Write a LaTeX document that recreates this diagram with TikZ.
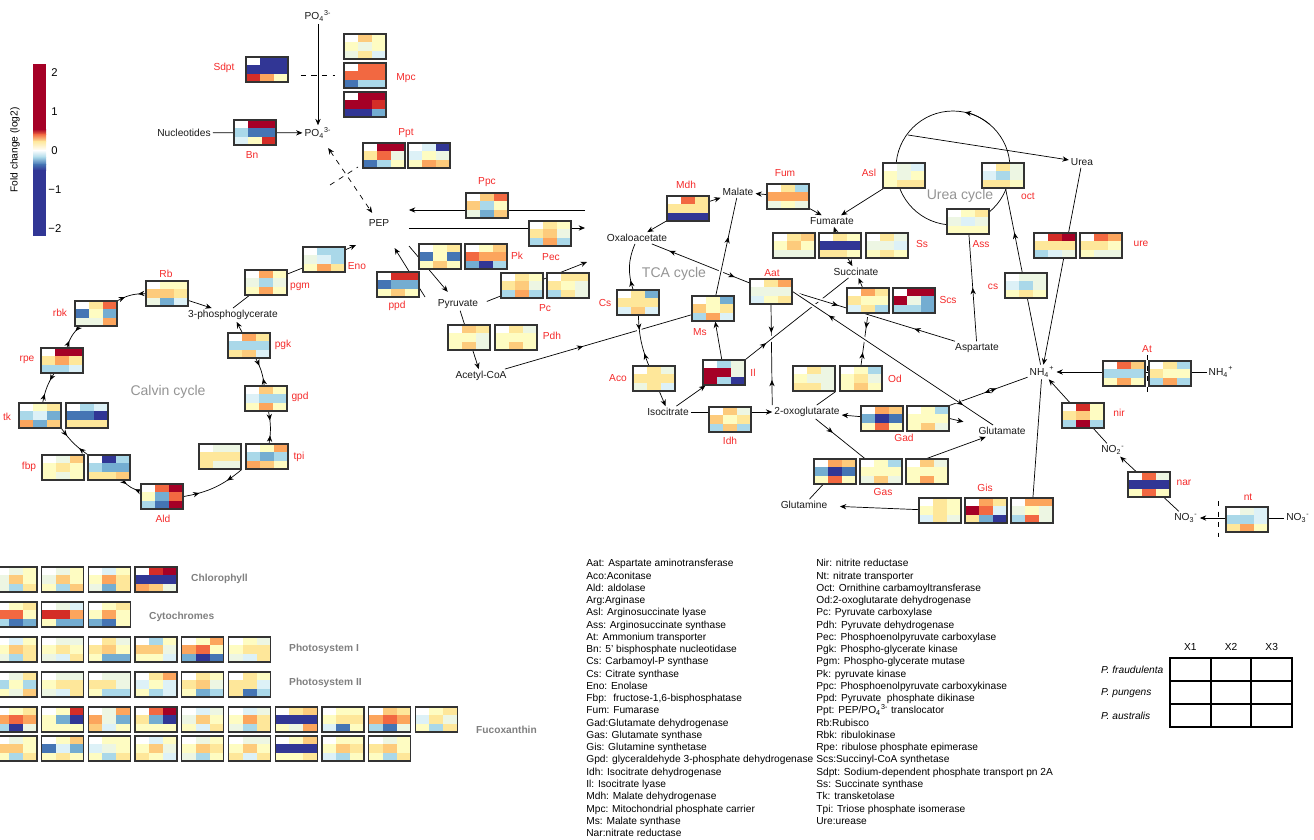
\documentclass[tikz,border=0pt]{standalone}
\usepackage{fontspec}
\setmainfont{Liberation Sans}
\usetikzlibrary{arrows.meta,backgrounds,decorations.markings,positioning}

% expression colours (log2 fold change)
\definecolor{w0}{HTML}{FFFFFF}
\definecolor{y1}{HTML}{FEFCC2}
\definecolor{y2}{HTML}{FEE79A}
\definecolor{y3}{HTML}{FDCB7C}
\definecolor{o1}{HTML}{FCA55D}
\definecolor{o2}{HTML}{F26841}
\definecolor{r1}{HTML}{D42D27}
\definecolor{r2}{HTML}{A50026}
\definecolor{g0}{HTML}{EDF6E3}
\definecolor{b0}{HTML}{DDF1F7}
\definecolor{b1}{HTML}{AAD8E9}
\definecolor{b2}{HTML}{74ADD1}
\definecolor{b3}{HTML}{4575B4}
\definecolor{b4}{HTML}{313695}
\definecolor{enzred}{HTML}{F42A2A}

% 3x3 expression map, #1 name, #2 top left corner, #3 nine colours row by row
\newcommand{\hmap}[3]{%
  \begin{scope}[shift={#2}]
    \foreach \hc [count=\hk from 0] in {#3}{%
      \pgfmathtruncatemacro{\hx}{mod(\hk,3)}%
      \pgfmathtruncatemacro{\hy}{\hk/3}%
      \fill[\hc] (\hx*14,\hy*25/3) rectangle +(14,25/3);
    }
    \node[hmbox] (#1) at (21,12.5) {};
  \end{scope}}

\tikzset{
  hmbox/.style={draw=black!80, line width=0.7pt, minimum width=0.84cm, minimum height=0.5cm, inner sep=0pt},
  met/.style={inner sep=1pt, text=black!90},
  enz/.style={inner sep=0.5pt, text=enzred},
  cyc/.style={text=black!42, font=\fontsize{8}{9}\selectfont},
  grp/.style={anchor=west, text=black!50, font=\fontsize{5.8}{7}\selectfont\bfseries},
  fwd/.style={postaction={decorate,decoration={markings,mark=at position #1 with {\arrow{Stealth[length=3.6pt,width=3pt]}}}}},
  bwd/.style={postaction={decorate,decoration={markings,mark=at position #1 with {\arrowreversed{Stealth[length=3.6pt,width=3pt]}}}}},
  twoway/.style={fwd=0.28, bwd=0.75},
  bothway/.style={bwd=0.18, fwd=0.85},
  bridge/.style={preaction={draw=white, line width=2.6pt}},
}

\begin{document}
\begin{tikzpicture}[x=0.02cm, y=-0.02cm, font=\fontsize{5.8}{7}\selectfont,
  >={Stealth[length=3.6pt,width=3pt]}, line width=0.5pt]
\useasboundingbox (0,0) rectangle (1314,839);

% colour key
\fill[r2] (33,64) rectangle (46,129.5);
\shade[top color=r2, bottom color=o2] (33,129) rectangle (46,134.5);
\shade[top color=o2, bottom color=y2] (33,134) rectangle (46,141.5);
\shade[top color=y2, bottom color=w0] (33,141) rectangle (46,150.5);
\shade[top color=w0, bottom color=b1] (33,150) rectangle (46,157.5);
\shade[top color=b1, bottom color=b3] (33,157) rectangle (46,164.5);
\shade[top color=b3, bottom color=b4] (33,164) rectangle (46,170.5);
\fill[b4] (33,170) rectangle (46,236);
\foreach \v/\yy/\xx in {2/73/51, 1/112/51, 0/151/51, −1/190/48, −2/229/48}
  \node[anchor=west, inner sep=0pt, font=\fontsize{6.4}{7}\selectfont] (cb\yy) at (\xx,\yy) {\v};
\node[rotate=90] (cbtitle) at (15,150) {Fold change (log2)};

% expression maps
\hmap{sdpt}{(246,57)}{w0,b4,b4,b4,b4,b4,r1,o1,y1}
\hmap{mpc1}{(344,34)}{w0,y3,y1,y1,g0,y1,g0,y2,b0}
\hmap{mpc2}{(344,63)}{w0,o2,o2,o2,o2,o2,b3,b1,b1}
\hmap{mpc3}{(344,92)}{w0,r2,r2,r2,r2,r1,b4,b4,b2}
\hmap{bn}{(234,120)}{w0,r2,r2,b1,b3,b3,b0,y1,r1}
\hmap{ppt1}{(363,143)}{w0,r2,r2,y2,o2,g0,b3,b1,y1}
\hmap{ppt2}{(408,143)}{w0,b0,b4,b0,y1,g0,y1,o1,y3}
\hmap{ppc}{(466,193)}{w0,y3,o2,y3,b1,y1,g0,b2,y3}
\hmap{pec}{(529,221)}{w0,y2,y1,y2,y3,g0,b1,o1,b1}
\hmap{pk1}{(419,244)}{w0,y1,y2,b3,y1,b3,y1,y3,y1}
\hmap{pk2}{(465,244)}{w0,y1,y3,o2,o1,o1,b2,b4,b1}
\hmap{ppd}{(377,272)}{w0,r1,r1,b3,b2,b2,y1,y3,y1}
\hmap{pc1}{(501,273)}{w0,y2,y1,y2,y3,g0,b1,o1,b1}
\hmap{pc2}{(547,273)}{w0,y2,y2,y2,y1,g0,b1,y2,g0}
\hmap{pdh1}{(448,325)}{w0,y3,y2,y1,y1,g0,y1,y3,g0}
\hmap{pdh2}{(495,325)}{w0,y2,g0,y1,y1,y1,y1,y3,y1}
\hmap{eno}{(303,247)}{w0,b1,b1,g0,b0,b1,y1,o1,y2}
\hmap{pgm}{(245,270)}{w0,o1,y1,g0,b1,g0,y1,o1,y1}
\hmap{rb}{(146,281)}{w0,y1,y1,y3,y3,y2,g0,b2,b0}
\hmap{rbk}{(75,301)}{w0,y2,o2,b3,y1,b2,g0,g0,o1}
\hmap{rpe}{(41,348)}{w0,r2,r2,y2,o1,y2,b1,b1,b0}
\hmap{tk1}{(19,403)}{w0,y1,y2,b1,b0,b2,o1,b2,y3}
\hmap{tk2}{(66,403)}{w0,b1,b0,b3,b3,b4,y2,y2,y2}
\hmap{fbp1}{(42,455)}{w0,g0,y3,y1,y2,y1,y1,g0,y1}
\hmap{fbp2}{(88,455)}{w0,b4,b1,b1,b2,b2,y2,y2,y3}
\hmap{ald}{(141,484)}{w0,o2,r2,y1,b2,o2,b1,b3,r2}
\hmap{tpi1}{(199,444)}{w0,g0,g0,y2,y2,y2,y2,g0,g0}
\hmap{tpi2}{(246,444)}{w0,y1,o1,b1,b2,b1,o1,y3,y1}
\hmap{gpd}{(245,386)}{w0,y3,y1,b0,b1,b1,y1,o1,y1}
\hmap{pgk}{(228,333)}{w0,o1,y2,b1,b1,b1,y2,y3,b0}
\hmap{mdh}{(667,196)}{w0,o2,y2,y2,y2,y2,b4,b4,b4}
\hmap{fum}{(767,184)}{w0,y2,b1,o1,o1,o1,g0,y1,g0}
\hmap{ss1}{(773,233)}{w0,y2,y3,y1,y3,y1,g0,g0,g0}
\hmap{ss2}{(819,233)}{w0,y2,y1,b4,b4,b4,y2,y2,y1}
\hmap{ss3}{(866,233)}{w0,y2,g0,g0,g0,b0,y1,y2,y1}
\hmap{aat}{(750,279)}{w0,y2,o1,g0,g0,g0,b0,y1,y2}
\hmap{scs1}{(847,288)}{w0,o1,y2,y2,y1,y1,b0,y2,b1}
\hmap{scs2}{(893,288)}{w0,r2,r2,r2,g0,b2,b1,b1,b2}
\hmap{cs}{(617,290)}{w0,y2,b2,y2,y2,y2,b0,y3,b0}
\hmap{ms}{(692,296)}{w0,y1,b2,y3,y1,y2,b1,o1,b0}
\hmap{aco}{(633,366)}{w0,y2,g0,y2,y2,y2,g0,y2,b0}
\hmap{il}{(703,360)}{w0,b1,g0,r2,r2,g0,r2,b1,b4}
\hmap{idh}{(709,407)}{w0,y3,g0,y3,y1,y2,b1,y3,b1}
\hmap{od1}{(793,366)}{w0,y2,g0,y1,g0,g0,y2,y2,g0}
\hmap{od2}{(840,366)}{w0,y1,b1,y1,y2,g0,y1,y3,y1}
\hmap{gad1}{(861,406)}{w0,o1,y3,b2,b4,b3,y1,o2,y1}
\hmap{gad2}{(907,406)}{w0,y1,b1,y1,y1,y1,y1,y3,g0}
\hmap{gas1}{(814,459)}{w0,o1,y3,b2,b4,b3,y1,o2,y1}
\hmap{gas2}{(860,459)}{w0,y1,b1,y1,y1,y1,g0,y3,g0}
\hmap{gas3}{(906,459)}{w0,y3,g0,y1,y1,y1,y1,o1,y1}
\hmap{gis1}{(919,498)}{w0,y2,y1,y1,y2,y1,b0,y2,g0}
\hmap{gis2}{(965,498)}{w0,o1,y2,r2,o2,b0,y2,b2,b4}
\hmap{gis3}{(1011,498)}{w0,o1,o1,g0,y1,g0,b1,o2,g0}
\hmap{asl}{(883,163)}{w0,g0,b0,y1,g0,y1,y1,y2,y2}
\hmap{oct}{(982,163)}{w0,y2,g0,b0,b1,g0,y2,y2,y1}
\hmap{ass}{(947,209)}{w0,y1,y2,g0,b0,g0,y1,y1,y1}
\hmap{csu}{(1005,273)}{w0,g0,g0,b0,b1,g0,y1,y2,y1}
\hmap{ure1}{(1034,233)}{w0,r1,r2,y2,y2,y2,b1,b0,g0}
\hmap{ure2}{(1080,233)}{w0,o2,o1,y2,y2,y1,y1,g0,g0}
\hmap{at1}{(1103,361)}{w0,o2,y3,b1,b1,b1,y1,o1,y1}
\hmap{at2}{(1149,361)}{w0,y2,b1,y2,y1,y1,b1,o1,b1}
\hmap{nir}{(1062,403)}{w0,r1,y1,y2,y3,y1,b1,r2,b1}
\hmap{nar}{(1128,472)}{w0,o2,g0,b4,b4,b4,y1,o2,y1}
\hmap{nt}{(1226,507)}{w0,g0,b0,b1,b1,b0,y2,o1,y1}

% metabolites
\node[met] (po4a) at (318,16) {PO\textsubscript{4}\textsuperscript{3-}};
\node[met] (po4b) at (318,133) {PO\textsubscript{4}\textsuperscript{3-}};
\node[met] (nucl) at (184,133) {Nucleotides};
\node[met] (pep) at (379,223) {PEP};
\node[met] (pyr) at (458,304) {Pyruvate};
\node[met] (acoa) at (481,376) {Acetyl-CoA};
\node[met] (pga) at (233,315) {3-phosphoglycerate};
\node[met] (oxa) at (637,238) {Oxaloacetate};
\node[met] (mal) at (738,192) {Malate};
\node[met] (fumt) at (832,221) {Fumarate};
\node[met] (succ) at (856,272) {Succinate};
\node[met] (isoc) at (668,412) {Isocitrate};
\node[met] (oxog) at (807,412) {2-oxoglutarate};
\node[met] (asp) at (977,348) {Aspartate};
\node[met] (glu) at (1002,431) {Glutamate};
\node[met] (gln) at (804,505) {Glutamine};
\node[met] (nh4) at (1042,372) {NH\textsubscript{4}\textsuperscript{+}};
\node[met] (nh4r) at (1221,372) {NH\textsubscript{4}\textsuperscript{+}};
\node[met] (urea) at (1082,162) {Urea};
\node[met] (no2) at (1113,450) {NO\textsubscript{2}\textsuperscript{-}};
\node[met] (no3a) at (1186,518) {NO\textsubscript{3}\textsuperscript{-}};
\node[met] (no3b) at (1298,518) {NO\textsubscript{3}\textsuperscript{-}};

% cycle names
\node[cyc] (lcalvin) at (168,392) {Calvin cycle};
\node[cyc] (ltca) at (674,274) {TCA cycle};
\node[cyc] (lurea) at (960,196) {Urea cycle};

% enzyme names
\node[enz] (lsdpt) at (224,68) {Sdpt};
\node[enz] (lmpc) at (406,78) {Mpc};
\node[enz] (lbn) at (252,155) {Bn};
\node[enz] (lppt) at (406,133) {Ppt};
\node[enz] (lppc) at (487,182) {Ppc};
\node[enz] (lpec) at (551,257) {Pec};
\node[enz] (lpk) at (517,256) {Pk};
\node[enz] (lppd) at (397,306) {ppd};
\node[enz] (lpc) at (545,308) {Pc};
\node[enz] (lpdh) at (552,336) {Pdh};
\node[enz] (leno) at (357,266) {Eno};
\node[enz] (lpgm) at (300,287) {pgm};
\node[enz] (lrb) at (166,274) {Rb};
\node[enz] (lrbk) at (60,313) {rbk};
\node[enz] (lrpe) at (27,360) {rpe};
\node[enz] (ltk) at (7,417) {tk};
\node[enz] (lfbp) at (29,467) {fbp};
\node[enz] (lald) at (163,519) {Ald};
\node[enz] (ltpi) at (299,457) {tpi};
\node[enz] (lgpd) at (300,397) {gpd};
\node[enz] (lpgk) at (283,345) {pgk};
\node[enz] (lmdh) at (686,185) {Mdh};
\node[enz] (lfum) at (785,173) {Fum};
\node[enz] (lasl) at (869,173) {Asl};
\node[enz] (laat) at (772,273) {Aat};
\node[enz] (lss) at (922,244) {Ss};
\node[enz] (lscs) at (948,300) {Scs};
\node[enz] (lcs) at (605,303) {Cs};
\node[enz] (lms) at (700,332) {Ms};
\node[enz] (laco) at (618,378) {Aco};
\node[enz] (lil) at (753,373) {Il};
\node[enz] (lidh) at (730,441) {Idh};
\node[enz] (lod) at (895,379) {Od};
\node[enz] (lgad) at (904,438) {Gad};
\node[enz] (lgas) at (883,492) {Gas};
\node[enz] (lgis) at (985,488) {Gis};
\node[enz] (loct) at (1028,196) {oct};
\node[enz] (lass) at (981,244) {Ass};
\node[enz] (lcsu) at (993,287) {cs};
\node[enz] (lure) at (1141,244) {ure};
\node[enz] (lat) at (1147,349) {At};
\node[enz] (lnir) at (1119,413) {nir};
\node[enz] (lnar) at (1184,483) {nar};
\node[enz] (lnt) at (1248,497) {nt};

% free line ends
\coordinate (memA) at (330,185);
\coordinate (memB) at (358,167);
\coordinate (ppcR) at (585,210);
\coordinate (pecR) at (585,228);
\coordinate (pcE) at (587,262);
\coordinate (pkA) at (409,246);
\coordinate (ppdA) at (425,297);
\coordinate (enoT) at (356,245);
\coordinate (atA) at (1147,355);
\coordinate (atB) at (1147,393);
\coordinate (ntA) at (1218,501);
\coordinate (ntB) at (1218,537);
\coordinate (ucyc) at (953,168);
\coordinate (uout) at (908,135);

\begin{pgfonlayer}{background}
% phosphate
\draw[->] (po4a) -- (po4b);
\draw[dashed, shorten <=7pt, shorten >=4.5pt] (sdpt.east |- mpc2.west) -- (mpc2.west);
\draw (nucl) -- (bn);
\draw[->] (bn) -- (po4b);
\draw[dashed, <->, shorten <=5pt, shorten >=3pt] (po4b) -- (pep);
\draw[dashed] (memA) -- (memB);
% PEP and pyruvate
\draw[->, shorten >=10pt] (ppcR) -- (ppcR -| pep.east);
\draw[->, shorten <=10pt] (pecR -| pep.east) -- (pecR);
\draw[->, shorten >=4pt] (pkA) -- (pyr);
\draw[->, shorten >=13pt] (ppdA) -- (pep);
\draw[->, shorten <=4pt] (pyr.east) -- (pcE);
\draw[->] (pyr) -- (acoa);
\draw[fwd=0.42] (acoa) -- (ms);
% Calvin cycle
\draw[twoway] (rbk) to[bend left=15] (rb);
\draw[->] (rb) -- (pga);
\draw[->] (pgk) -- (pga);
\draw (pga.north) -- (pgm);
\draw (pgm) -- (eno);
\draw[->] (eno) -- (enoT);
\draw[twoway] (pgk) to[bend left=10] (gpd);
\draw[twoway] (gpd) to[bend left=10] (tpi2);
\draw[twoway] (tpi1.south east) to[bend left=15] (ald.east);
\draw[twoway] (ald) to[bend left=15] (fbp2);
\draw[twoway] (fbp2.north west) to[bend left=10] (tk1.south east);
\draw[twoway] (tk1) to[bend left=10] (rpe);
\draw[twoway] (rpe) to[bend left=15] (rbk);
% TCA cycle
\draw[->] (mdh) -- (mal);
\draw[->] (mdh) -- (oxa);
\draw[->] (fum) -- (mal);
\draw[->] (fum) -- (fumt);
\draw[->] (ss2) -- (fumt);
\draw[->] (ss2) -- (succ);
\draw[->] (scs1) -- (succ);
\draw[->] (asl) -- (fumt);
\draw[fwd=0.6, bwd=0.45] (gad2.north east) -- (nh4);
\draw[bothway] (oxa) -- (aat);
\draw[bwd=0.8] (oxa) to[bend right=20] (cs);
\draw[bridge, twoway] (cs) to[bend right=10] (aco);
\draw[->] (aco) -- (isoc);
\draw[->] (isoc) -- (il);
\draw[->] (isoc) -- (oxog);
\draw[->] (il) -- (ms);
\draw[bridge, fwd=0.6] (ms) -- (mal);
\draw[twoway] (aat.south) -- (oxog.north west);
\draw[twoway] (scs1.south) -- (od2.north);
\draw (oxog) -- (od1.south east);
\draw[bridge, fwd=0.2] (il.north east) -- (succ);
\draw[bridge, twoway] (aat.east) -- (asp);
\draw[bridge, bothway] (aat.east) -- (glu);
% nitrogen
\draw[->] (gad1) -- (oxog);
\draw[->, shorten >=8pt] (gad2.east) -- (glu);
\draw[fwd=0.35] (oxog) -- (gas2);
\draw[->] (gas3.north) -- (glu);
\draw (gas1) -- (gln);
\draw[->, shorten >=6pt] (gis1) -- (gln);
\draw (gis3) -- (nh4);
\draw[->] (nh4r) -- (nh4);
\draw[dashed] (atA) -- (atB);
\draw[->] (no2) -- (nh4);
\draw[->] (no3a) -- (no2);
\draw[->] (no3b) -- (no3a);
\draw[dashed] (ntA) -- (ntB);
\draw[->] (urea) -- (nh4);
\draw[fwd=0.75] (nh4) -- (oct);
\draw[fwd=0.5] (asp) -- (ass);
% urea cycle
\draw (ucyc) circle[radius=57];
\draw[->] ([shift={(-50:57)}]ucyc) arc[start angle=-50, end angle=-78, radius=57];
\draw[->] (uout) -- (urea);
\end{pgfonlayer}

% pigment and photosystem genes
\hmap{chl1}{(-5,567)}{w0,g0,y1,g0,y3,y1,g0,b1,y2}
\hmap{chl2}{(41.7,567)}{w0,g0,y1,g0,y3,y1,y1,b1,y3}
\hmap{chl3}{(88.4,567)}{w0,b0,y1,y1,o1,y2,g0,b2,y2}
\hmap{chl4}{(135.1,567)}{w0,r1,r2,b4,b4,b4,o1,y3,g0}
\hmap{cyt1}{(-5,602)}{w0,y1,y2,o2,o2,y1,b1,b3,b2}
\hmap{cyt2}{(41.7,602)}{w0,g0,b0,r1,r1,o1,y1,b2,b2}
\hmap{cyt3}{(88.4,602)}{w0,y1,y2,y1,o1,y1,b2,b3,y1}
\hmap{psa1}{(-5,637)}{w0,b0,y1,y1,y3,y2,g0,b1,y2}
\hmap{psa2}{(41.7,637)}{w0,g0,g0,y1,y2,y1,g0,b0,y2}
\hmap{psa3}{(88.4,637)}{w0,y2,g0,y2,y3,y1,y1,b2,b2}
\hmap{psa4}{(135.1,637)}{w0,b1,y1,y3,y3,g0,y1,y1,b0}
\hmap{psa5}{(181.8,637)}{w0,y1,o1,o1,o2,y1,b2,b4,b3}
\hmap{psa6}{(228.5,637)}{w0,y1,g0,y1,y2,y2,g0,b0,y2}
\hmap{psb1}{(-5,672)}{w0,g0,y2,b1,y1,b1,y1,g0,y3}
\hmap{psb2}{(41.7,672)}{w0,g0,g0,y1,y2,y2,g0,b0,y2}
\hmap{psb3}{(88.4,672)}{w0,g0,g0,y2,y2,g0,y1,b1,b1}
\hmap{psb4}{(135.1,672)}{w0,y2,o1,b0,y1,b0,y1,b1,b0}
\hmap{psb5}{(181.8,672)}{w0,y2,y1,y2,y3,g0,y1,b2,b1}
\hmap{psb6}{(228.5,672)}{w0,y2,y1,y2,y2,b0,y2,b3,b1}
\hmap{fxa1}{(-5,707)}{w0,y1,y2,o1,o2,o1,b1,b4,g0}
\hmap{fxa2}{(41.7,707)}{w0,y1,r1,y1,b2,b4,y1,y1,y1}
\hmap{fxa3}{(88.4,707)}{w0,g0,o1,o1,g0,b2,y3,b0,y1}
\hmap{fxa4}{(135.1,707)}{w0,o2,r2,y2,b2,b4,y1,y1,y1}
\hmap{fxa5}{(181.8,707)}{w0,b0,g0,g0,y3,y1,y1,b0,y2}
\hmap{fxa6}{(228.5,707)}{w0,b0,g0,y1,o1,y2,g0,b1,y2}
\hmap{fxa7}{(275.2,707)}{w0,y2,y3,b4,b4,b4,y1,g0,o1}
\hmap{fxa8}{(321.9,707)}{w0,y1,y1,y1,y2,y2,b0,b3,y1}
\hmap{fxa9}{(368.6,707)}{w0,y3,y2,o1,o2,o1,b1,b3,g0}
\hmap{fxa10}{(415.3,707)}{w0,y1,y2,b0,y2,g0,y1,b1,y2}
\hmap{fxb1}{(-5,736)}{w0,g0,y1,y3,y3,y1,y1,b1,y2}
\hmap{fxb2}{(41.7,736)}{w0,y1,y3,b3,b0,b2,y1,y2,y1}
\hmap{fxb3}{(88.4,736)}{w0,y1,y1,b0,g0,y1,y1,b1,y2}
\hmap{fxb4}{(135.1,736)}{w0,b0,y1,y1,y3,g0,y2,y1,b0}
\hmap{fxb5}{(181.8,736)}{w0,g0,y1,y1,y3,y2,g0,b1,y1}
\hmap{fxb6}{(228.5,736)}{w0,g0,g0,y1,y3,y1,y2,b0,y2}
\hmap{fxb7}{(275.2,736)}{w0,y1,y3,b4,b4,b4,y1,y1,y2}
\hmap{fxb8}{(321.9,736)}{w0,y1,y1,y1,y3,y2,b0,b1,y1}
\hmap{fxb9}{(368.6,736)}{w0,g0,y1,y2,y3,y1,y1,b1,y2}
\node[grp] (gchl) at (185,579) {Chlorophyll};
\node[grp] (gcyt) at (143,617) {Cytochromes};
\node[grp] (gpsa) at (283,649) {Photosystem I};
\node[grp] (gpsb) at (283,683) {Photosystem II};
\node[grp] (gfx) at (470,730) {Fucoxanthin};

% abbreviations
\node[anchor=north west, align=left, inner sep=0pt, font=\fontsize{5.8}{6.98}\selectfont] (keyA) at (586,559) {%
Aat: Aspartate aminotransferase\\
Aco:Aconitase\\
Ald: aldolase\\
Arg:Arginase\\
Asl: Arginosuccinate lyase\\
Ass: Arginosuccinate synthase\\
At: Ammonium transporter\\
Bn: 5' bisphosphate nucleotidase\\
Cs: Carbamoyl-P synthase\\
Cs: Citrate synthase\\
Eno: Enolase\\
Fbp:~ fructose-1,6-bisphosphatase\\
Fum: Fumarase\\
Gad:Glutamate dehydrogenase\\
Gas: Glutamate synthase\\
Gis: Glutamine synthetase\\
Gpd: glyceraldehyde 3-phosphate dehydrogenase\\
Idh: Isocitrate dehydrogenase\\
Il: Isocitrate lyase\\
Mdh: Malate dehydrogenase\\
Mpc: Mitochondrial phosphate carrier\\
Ms: Malate synthase\\
Nar:nitrate reductase};
\node[anchor=north west, align=left, inner sep=0pt, font=\fontsize{5.8}{6.98}\selectfont] (keyB) at (816,559) {%
Nir: nitrite reductase\\
Nt: nitrate transporter\\
Oct: Ornithine carbamoyltransferase\\
Od:2-oxoglutarate dehydrogenase\\
Pc: Pyruvate carboxylase\\
Pdh: Pyruvate dehydrogenase\\
Pec: Phosphoenolpyruvate carboxylase\\
Pgk: Phospho-glycerate kinase\\
Pgm: Phospho-glycerate mutase\\
Pk: pyruvate kinase\\
Ppc: Phosphoenolpyruvate carboxykinase\\
Ppd: Pyruvate~ phosphate dikinase\\
Ppt: PEP/PO\textsubscript{4}\textsuperscript{3-} translocator\\
Rb:Rubisco\\
Rbk: ribulokinase\\
Rpe: ribulose phosphate epimerase\\
Scs:Succinyl-CoA synthetase\\
Sdpt: Sodium-dependent phosphate transport pn 2A\\
Ss: Succinate synthase\\
Tk: transketolase\\
Tpi: Triose phosphate isomerase\\
Ure:urease};

% species by condition layout
\foreach \i in {0,...,3} {
  \draw[line width=1.1pt, line cap=rect] (1170+\i*40.67,658) -- (1170+\i*40.67,727);
  \draw[line width=1.1pt, line cap=rect] (1170,658+\i*23) -- (1292,658+\i*23);
}
\foreach \k in {1,2,3}
  \node (xlab\k) at ({1149.7+\k*40.67},647) {X\k};
\node[anchor=west] (spfr) at (1095,670) {\textit{P. fraudulenta}};
\node[anchor=west] (sppu) at (1095,693) {\textit{P. pungens}};
\node[anchor=west] (spau) at (1095,716) {\textit{P. australis}};

\end{tikzpicture}
\end{document}
